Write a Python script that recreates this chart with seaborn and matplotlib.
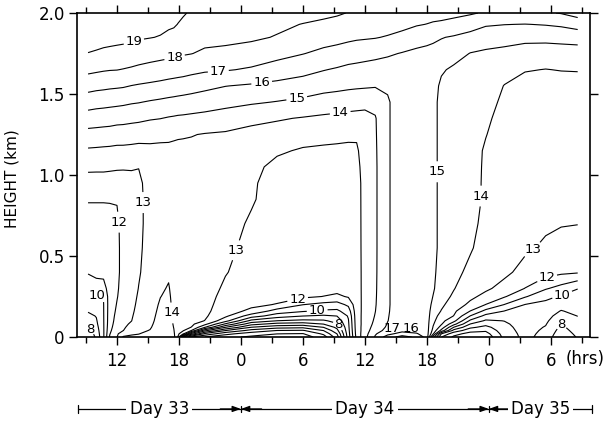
import numpy as np
import matplotlib
matplotlib.use("Agg")
import matplotlib.pyplot as plt
import seaborn as sns

# Hours after 00h of Day 33 at which each temperature profile is given
hours = [9.2, 10.0, 10.7, 11.3, 12.0, 12.6, 13.4, 14.1, 15.2, 16.2,
         17.0, 17.5, 17.9, 18.4, 19.2, 20.5, 22.5, 25.0, 27.5, 30.0,
         32.0, 33.3, 34.4, 35.2, 36.0, 37.0, 38.2, 39.6, 41.0, 42.0,
         42.6, 43.4, 44.6, 46.2, 47.7, 49.5, 51.5, 53.5, 55.0, 56.6]

# Profile levels (km above ground)
heights_km = [0.00, 0.02, 0.04, 0.06, 0.08, 0.10, 0.13, 0.16, 0.20, 0.25,
              0.30, 0.40, 0.55, 0.70, 0.85, 0.95, 1.05, 1.15, 1.25, 1.35,
              1.45, 1.55, 1.65, 1.75, 1.85, 1.93, 2.00]

# Temperature (deg C): one profile per hour above, listed bottom to top
temperature_c = [
    [7.0, 7.35, 7.7, 7.98, 8.25, 8.45, 8.75, 9.08, 9.4, 9.78, 10.2, 11.1, 11.4, 11.7, 12.05, 12.6, 13.2, 13.87, 14.67, 15.55, 16.45, 17.36, 18.23, 18.98, 19.35, 19.6, 19.8],
    [8.2, 8.35, 8.5, 8.65, 8.8, 8.9, 9.05, 9.25, 9.55, 9.9, 10.5, 11.3, 11.5, 11.7, 12.05, 12.59, 13.19, 13.84, 14.64, 15.49, 16.36, 17.27, 18.15, 18.92, 19.3, 19.55, 19.75],
    [9.9, 9.9, 9.91, 9.92, 9.93, 9.94, 9.95, 9.96, 9.97, 10.05, 10.6, 11.3, 11.5, 11.7, 12.05, 12.59, 13.19, 13.81, 14.6, 15.45, 16.32, 17.22, 18.08, 18.85, 19.27, 19.52, 19.72],
    [12.1, 11.95, 11.8, 11.7, 11.62, 11.58, 11.55, 11.52, 11.5, 11.5, 11.5, 11.6, 11.65, 11.75, 12.05, 12.57, 13.16, 13.79, 14.57, 15.42, 16.27, 17.17, 18.04, 18.81, 19.25, 19.5, 19.7],
    [12.98, 12.85, 12.7, 12.55, 12.45, 12.35, 12.25, 12.15, 12.05, 11.95, 11.88, 11.8, 11.8, 11.85, 12.05, 12.55, 13.12, 13.75, 14.5, 15.35, 16.23, 17.13, 18.02, 18.77, 19.22, 19.47, 19.67],
    [14.1, 13.55, 12.98, 12.85, 12.75, 12.65, 12.55, 12.48, 12.42, 12.38, 12.35, 12.3, 12.3, 12.3, 12.35, 12.5, 13.12, 13.75, 14.49, 15.32, 16.18, 17.09, 17.96, 18.73, 19.2, 19.45, 19.65],
    [14.15, 13.9, 13.6, 13.35, 13.15, 12.98, 12.9, 12.82, 12.75, 12.7, 12.65, 12.6, 12.6, 12.6, 12.62, 12.7, 13.09, 13.72, 14.44, 15.25, 16.09, 16.98, 17.87, 18.63, 19.15, 19.4, 19.6],
    [14.15, 13.98, 13.85, 13.7, 13.58, 13.48, 13.38, 13.3, 13.2, 13.1, 13.02, 12.92, 12.85, 12.8, 12.8, 12.85, 13.02, 13.67, 14.4, 15.2, 16.04, 16.91, 17.78, 18.52, 19.09, 19.33, 19.55],
    [14.3, 14.18, 14.03, 13.93, 13.85, 13.78, 13.7, 13.62, 13.55, 13.48, 13.42, 13.37, 13.32, 13.3, 13.3, 13.3, 13.5, 13.75, 14.33, 15.08, 15.92, 16.82, 17.67, 18.4, 19.03, 19.27, 19.48],
    [14.5, 14.47, 14.43, 14.4, 14.37, 14.33, 14.28, 14.22, 14.12, 13.98, 13.85, 13.7, 13.5, 13.45, 13.42, 13.4, 13.55, 13.75, 14.26, 15.02, 15.83, 16.73, 17.58, 18.31, 18.96, 19.2, 19.4],
    [14.6, 14.57, 14.54, 14.51, 14.48, 14.45, 14.4, 14.35, 14.27, 14.18, 14.08, 13.85, 13.6, 13.5, 13.45, 13.45, 13.6, 13.8, 14.19, 14.93, 15.75, 16.64, 17.5, 18.24, 18.82, 19.13, 19.33],
    [14.3, 14.15, 14.05, 13.97, 13.9, 13.85, 13.8, 13.76, 13.72, 13.67, 13.62, 13.55, 13.5, 13.45, 13.45, 13.45, 13.6, 13.8, 14.13, 14.89, 15.71, 16.59, 17.46, 18.19, 18.73, 19.1, 19.25],
    [12.95, 13.2, 13.32, 13.38, 13.42, 13.44, 13.45, 13.45, 13.45, 13.45, 13.45, 13.45, 13.45, 13.45, 13.45, 13.45, 13.6, 13.78, 14.1, 14.85, 15.67, 16.55, 17.42, 18.15, 18.62, 18.98, 19.2],
    [7.0, 12.3, 13.1, 13.3, 13.38, 13.42, 13.45, 13.45, 13.45, 13.45, 13.45, 13.45, 13.45, 13.45, 13.45, 13.45, 13.6, 13.78, 14.08, 14.83, 15.63, 16.5, 17.38, 18.08, 18.5, 18.85, 19.08],
    [5.0, 8.6, 11.98, 12.98, 13.2, 13.3, 13.38, 13.42, 13.45, 13.45, 13.45, 13.45, 13.45, 13.45, 13.45, 13.45, 13.6, 13.78, 14.04, 14.78, 15.56, 16.41, 17.27, 18.02, 18.35, 18.62, 18.9],
    [4.0, 5.8, 8.3, 11.05, 12.3, 12.98, 13.15, 13.25, 13.32, 13.38, 13.42, 13.45, 13.45, 13.45, 13.45, 13.45, 13.6, 13.75, 13.95, 14.7, 15.46, 16.24, 17.14, 17.86, 18.27, 18.56, 18.85],
    [3.3, 4.3, 6.02, 8.02, 9.85, 11.35, 12.2, 12.4, 12.55, 12.7, 12.85, 13.05, 13.2, 13.3, 13.35, 13.4, 13.55, 13.7, 13.88, 14.54, 15.29, 16.02, 17.07, 17.76, 18.25, 18.53, 18.8],
    [2.8, 3.5, 4.65, 5.98, 7.35, 8.7, 10.5, 11.8, 12.2, 12.35, 12.45, 12.6, 12.75, 12.9, 13.08, 13.1, 13.25, 13.45, 13.7, 14.26, 15.12, 15.88, 16.89, 17.56, 18.16, 18.43, 18.7],
    [2.5, 3.02, 3.98, 5.35, 6.65, 7.98, 9.5, 10.55, 11.95, 12.3, 12.45, 12.55, 12.6, 12.62, 12.65, 12.7, 12.75, 13.13, 13.58, 14.09, 14.96, 15.73, 16.57, 17.31, 17.94, 18.19, 18.55],
    [2.5, 2.95, 3.9, 5.2, 6.5, 7.75, 9.02, 10.1, 11.02, 12.2, 12.45, 12.55, 12.6, 12.62, 12.65, 12.65, 12.75, 12.9, 13.4, 13.94, 14.78, 15.56, 16.3, 17.03, 17.55, 17.97, 18.35],
    [3.5, 4.2, 5.02, 6.02, 7.02, 7.85, 8.85, 9.85, 10.7, 11.98, 12.4, 12.55, 12.6, 12.62, 12.65, 12.65, 12.75, 12.85, 13.28, 13.83, 14.58, 15.34, 16.04, 16.78, 17.39, 17.83, 18.2],
    [5.5, 6.02, 6.7, 7.25, 7.9, 8.35, 9.02, 9.8, 10.6, 11.8, 12.35, 12.55, 12.6, 12.62, 12.65, 12.65, 12.75, 12.85, 13.2, 13.77, 14.5, 15.26, 15.9, 16.65, 17.3, 17.73, 18.1],
    [9.5, 9.6, 9.7, 9.78, 9.85, 9.93, 10.1, 10.5, 11.2, 12.1, 12.4, 12.55, 12.6, 12.62, 12.65, 12.65, 12.75, 12.85, 13.14, 13.71, 14.42, 15.18, 15.76, 16.5, 17.2, 17.6, 17.97],
    [12.3, 12.4, 12.45, 12.5, 12.52, 12.55, 12.58, 12.6, 12.62, 12.65, 12.67, 12.7, 12.72, 12.73, 12.74, 12.75, 12.8, 12.9, 13.1, 13.68, 14.37, 15.14, 15.71, 16.42, 17.13, 17.55, 17.9],
    [13.7, 13.6, 13.5, 13.45, 13.4, 13.38, 13.35, 13.32, 13.3, 13.28, 13.27, 13.25, 13.25, 13.25, 13.25, 13.25, 13.3, 13.35, 13.45, 13.65, 14.33, 15.11, 15.67, 16.33, 17.1, 17.5, 17.85],
    [15.1, 14.9, 14.6, 14.4, 14.25, 14.15, 14.05, 13.98, 13.93, 13.9, 13.88, 13.86, 13.85, 13.85, 13.85, 13.85, 13.85, 13.87, 13.9, 13.93, 14.3, 15.07, 15.6, 16.25, 17.05, 17.45, 17.8],
    [16.5, 15.7, 15.3, 15.15, 15.05, 14.98, 14.95, 14.92, 14.9, 14.9, 14.9, 14.9, 14.9, 14.9, 14.9, 14.9, 14.9, 14.9, 14.9, 14.9, 14.9, 15.12, 15.55, 16.12, 16.93, 17.4, 17.75],
    [17.4, 16.4, 15.7, 15.55, 15.5, 15.5, 15.5, 15.5, 15.5, 15.5, 15.5, 15.5, 15.5, 15.5, 15.5, 15.5, 15.5, 15.5, 15.5, 15.5, 15.5, 15.5, 15.6, 15.95, 16.7, 17.3, 17.65],
    [16.8, 16.1, 15.6, 15.5, 15.5, 15.5, 15.5, 15.5, 15.5, 15.5, 15.5, 15.5, 15.5, 15.5, 15.5, 15.5, 15.5, 15.5, 15.5, 15.5, 15.5, 15.5, 15.6, 15.8, 16.42, 17.08, 17.5],
    [15.6, 15.45, 15.42, 15.4, 15.4, 15.4, 15.4, 15.4, 15.4, 15.4, 15.4, 15.4, 15.4, 15.4, 15.4, 15.4, 15.4, 15.4, 15.4, 15.4, 15.4, 15.45, 15.55, 15.75, 16.27, 16.98, 17.4],
    [11.5, 13.2, 13.7, 13.95, 14.1, 14.25, 14.45, 14.6, 14.8, 14.98, 15.1, 15.15, 15.2, 15.2, 15.2, 15.2, 15.2, 15.2, 15.2, 15.2, 15.2, 15.3, 15.45, 15.7, 16.18, 16.9, 17.35],
    [8.02, 9.02, 11.7, 12.6, 13.1, 13.3, 13.6, 13.95, 14.2, 14.4, 14.55, 14.7, 14.8, 14.8, 14.8, 14.8, 14.8, 14.8, 14.8, 14.8, 14.8, 14.85, 15.1, 15.55, 16.05, 16.85, 17.3],
    [6.8, 7.4, 8.65, 9.98, 11.35, 12.3, 12.98, 13.2, 13.5, 13.85, 14.05, 14.3, 14.45, 14.5, 14.5, 14.5, 14.5, 14.5, 14.5, 14.5, 14.5, 14.6, 14.85, 15.35, 15.9, 16.75, 17.2],
    [6.3, 6.6, 7.4, 8.2, 8.98, 9.8, 10.98, 11.98, 12.8, 13.2, 13.4, 13.75, 14.1, 14.3, 14.35, 14.35, 14.35, 14.35, 14.35, 14.35, 14.35, 14.5, 14.7, 14.97, 15.65, 16.45, 17.1],
    [6.2, 6.6, 7.15, 7.7, 8.3, 8.85, 9.7, 10.7, 11.98, 12.75, 13.15, 13.45, 13.6, 13.7, 13.85, 13.85, 13.87, 13.9, 14.03, 14.2, 14.35, 14.5, 14.65, 14.85, 15.45, 16.1, 16.9],
    [8.3, 8.45, 8.6, 8.72, 8.85, 9.02, 9.45, 9.98, 10.98, 12.1, 12.7, 13.2, 13.4, 13.5, 13.55, 13.6, 13.6, 13.6, 13.6, 13.6, 13.8, 13.97, 14.35, 14.75, 15.35, 16.02, 16.85],
    [9.3, 9.32, 9.35, 9.38, 9.42, 9.47, 9.55, 9.7, 9.98, 11.1, 11.98, 12.7, 13.15, 13.4, 13.5, 13.5, 13.5, 13.5, 13.5, 13.5, 13.5, 13.7, 14.05, 14.5, 15.3, 15.98, 16.85],
    [8.6, 8.72, 8.83, 8.94, 9.06, 9.18, 9.35, 9.5, 9.75, 10.25, 11.1, 12.4, 12.85, 13.15, 13.3, 13.4, 13.4, 13.4, 13.4, 13.4, 13.4, 13.65, 13.98, 14.45, 15.3, 16.05, 16.9],
    [7.2, 7.4, 7.6, 7.8, 8.02, 8.25, 8.6, 8.95, 9.4, 9.9, 10.65, 12.2, 12.7, 13.05, 13.3, 13.35, 13.35, 13.35, 13.35, 13.35, 13.35, 13.65, 14.03, 14.5, 15.35, 16.15, 17.05],
    [8.1, 8.25, 8.4, 8.52, 8.65, 8.8, 9.02, 9.25, 9.5, 9.75, 10.02, 12.1, 12.6, 13.02, 13.3, 13.35, 13.35, 13.35, 13.35, 13.35, 13.35, 13.65, 14.05, 14.55, 15.4, 16.4, 17.4],
]

isotherms_c = list(range(3, 20))

major_hours = [12, 18, 24, 30, 36, 42, 48, 54]
hour_labels = ["12", "18", "0", "6", "12", "18", "0", "6"]
minor_hours = [9, 15, 21, 27, 33, 39, 45, 51, 57]
height_ticks = [0, 0.5, 1.0, 1.5, 2.0]
height_labels = ["0", "0.5", "1.0", "1.5", "2.0"]

day_names = ["Day 33", "Day 34", "Day 35"]
day_edges = [8.2, 24, 48, 58]

# Isotherm labels: (value, hour, height)
isotherm_labels = [
    (19, 13.7, 1.81), (18, 17.6, 1.72), (17, 21.8, 1.65), (16, 26.0, 1.575),
    (15, 29.4, 1.475), (14, 33.6, 1.39),
    (13, 14.7, 0.83), (12, 12.3, 0.71), (10, 9.9, 0.22), (8, 9.6, 0.06),
    (14, 17.6, 0.15),
    (13, 24.2, 0.52), (12, 29.5, 0.23), (10, 31.4, 0.15), (8, 33.1, 0.056),
    (15, 43.0, 1.02), (14, 47.1, 0.87),
    (13, 52.6, 0.51), (12, 53.6, 0.37), (10, 55.1, 0.26), (8, 55.2, 0.105),
]
# Small surface isotherms, labelled just above the ground
surface_labels = [(17, 38.6, 0.055), (16, 40.5, 0.055)]

sns.set_theme(style="ticks", rc={
    "axes.edgecolor": "black", "xtick.color": "black", "ytick.color": "black",
    "text.color": "black", "axes.labelcolor": "black", "axes.linewidth": 1.2,
})
plt.rcParams["font.family"] = ["DejaVu Sans"]

fig = plt.figure(figsize=(6.03, 4.21), dpi=100)
ax = fig.add_axes([0.1277, 0.1995, 0.8507, 0.7696])
ax.set_xlim(8.13, 57.79)
ax.set_ylim(0, 2.0)

field = np.array(temperature_c).T

# one contour set per isotherm, so each label snaps to its own line
isotherm_sets = {}
for level in isotherms_c:
    isotherm_sets[level] = ax.contour(hours, heights_km, field, levels=[level],
                                      colors="black", linewidths=0.8)

for value, hr, z in isotherm_labels:
    isotherm_sets[value].clabel(manual=[(hr, z)], inline=True, inline_spacing=2,
                                fmt="%d", fontsize=9.5)
for cs in isotherm_sets.values():
    for t in cs.labelTexts:
        t.set_rotation(0)
for value, hr, z in surface_labels:
    ax.text(hr, z, f"{value}", ha="center", va="center", fontsize=9.5)

# axes, ticks and labels
ax.set_xticks(major_hours)
ax.set_xticklabels(hour_labels)
ax.set_xticks(minor_hours, minor=True)
ax.set_yticks(height_ticks)
ax.set_yticklabels(height_labels)
ax.tick_params(axis="both", which="both", direction="out", top=True, right=True,
               labeltop=False, labelright=False, width=1.0, color="black")
ax.tick_params(which="major", length=5.8)
ax.tick_params(which="minor", length=4.3)
ax.tick_params(axis="x", labelsize=12, pad=5)
ax.tick_params(axis="y", labelsize=12, pad=3)
for s in ax.spines.values():
    s.set_visible(True)
    s.set_linewidth(1.2)
    s.set_color("black")

ax.set_ylabel("HEIGHT (km)", fontsize=11)
ax.yaxis.set_label_coords(-0.112, 0.49)

trans = ax.get_xaxis_transform()
ax.text(55.4, -0.068, "(hrs)", transform=trans, ha="left", va="center", fontsize=12)

# day spans below the time axis
yb = -0.222
ax.plot([day_edges[0], day_edges[-1]], [yb, yb], transform=trans, clip_on=False,
        color="black", lw=0.9, zorder=2)
for x in (day_edges[0], day_edges[-1]):
    ax.plot([x, x], [yb - 0.013, yb + 0.013], transform=trans, clip_on=False,
            color="black", lw=0.9)
for x in day_edges[1:-1]:
    ax.plot([x, x], [yb - 0.01, yb + 0.01], transform=trans, clip_on=False,
            color="black", lw=0.9)
    for dx in (-2.0, 2.0):
        ax.annotate("", xy=(x, yb), xytext=(x + dx, yb), xycoords=trans,
                    textcoords=trans,
                    arrowprops=dict(arrowstyle="-|>,head_length=0.5,head_width=0.18",
                                    color="black", lw=0.9, shrinkA=0, shrinkB=0,
                                    mutation_scale=10))
for name, a, b in zip(day_names, day_edges[:-1], day_edges[1:]):
    ax.text((a + b) / 2, yb, name, transform=trans, ha="center", va="center",
            fontsize=12, zorder=5, clip_on=False,
            bbox=dict(boxstyle="square,pad=0.2", fc="white", ec="none"))

fig.savefig("out.png", dpi=100)
